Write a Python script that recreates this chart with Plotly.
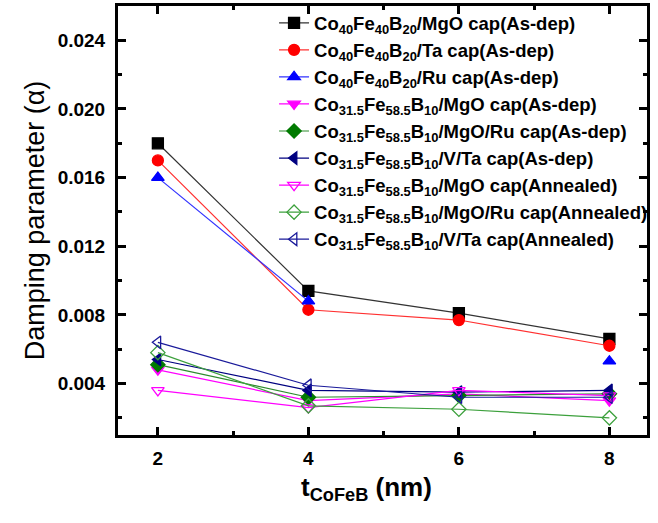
import plotly.graph_objects as go

# CoFeB thickness (nm)
t_cofeb = [2, 4, 6, 8]

# Gilbert damping parameter for each stack
co40_mgo_asdep = [0.0180, 0.0094, 0.0081, 0.0066]
co40_ta_asdep = [0.0170, 0.0083, 0.0077, 0.0062]
co40_ru_asdep = [0.0160, 0.0088, None, 0.0053]
co31_mgo_asdep = [0.0048, 0.0030, 0.0034, 0.0030]
co31_mgoru_asdep = [0.0051, 0.0032, 0.0033, 0.0034]
co31_vta_asdep = [0.0054, 0.0036, 0.0035, 0.0036]
co31_mgo_ann = [0.0036, 0.0026, 0.0036, 0.0033]
co31_mgoru_ann = [0.0058, 0.0027, 0.0025, 0.0020]
co31_vta_ann = [0.0064, 0.0039, 0.0032, 0.0032]

A = "Co<sub>40</sub>Fe<sub>40</sub>B<sub>20</sub>"
B = "Co<sub>31.5</sub>Fe<sub>58.5</sub>B<sub>10</sub>"

series = [
    (A + "/MgO cap(As-dep)", co40_mgo_asdep, "#000000", "#333333", "square"),
    (A + "/Ta cap(As-dep)", co40_ta_asdep, "#FF0000", "#FF3030", "circle"),
    (A + "/Ru cap(As-dep)", co40_ru_asdep, "#0000FF", "#3030FF", "triangle-up"),
    (B + "/MgO cap(As-dep)", co31_mgo_asdep, "#FF00FF", "#FF00FF", "triangle-down"),
    (B + "/MgO/Ru cap(As-dep)", co31_mgoru_asdep, "#007A00", "#2E8B2E", "diamond"),
    (B + "/V/Ta cap(As-dep)", co31_vta_asdep, "#000080", "#000080", "triangle-left"),
    (B + "/MgO cap(Annealed)", co31_mgo_ann, "#FF00FF", "#FF00FF", "triangle-down-open"),
    (B + "/MgO/Ru cap(Annealed)", co31_mgoru_ann, "#3CA03C", "#3CA03C", "diamond-open"),
    (B + "/V/Ta cap(Annealed)", co31_vta_ann, "#1A1A9A", "#1A1A9A", "triangle-left-open"),
]

fig = go.Figure()
for name, vals, mcol, lcol, sym in series:
    fig.add_trace(go.Scatter(
        x=t_cofeb, y=vals, name=name, mode="lines+markers",
        connectgaps=False,
        line=dict(color=lcol, width=1.2),
        marker=dict(symbol=sym, size=11, color=mcol,
                    line=dict(color=mcol, width=1.3)),
    ))

font_family = "Arial, Liberation Sans, sans-serif"

# x-axis title placed as an annotation below the tick labels
fig.add_annotation(
    text="t<sub>CoFeB</sub> (nm)", xref="paper", yref="paper",
    x=0.469, y=-0.125, xanchor="center", yanchor="middle", showarrow=False,
    font=dict(size=26, family=font_family, weight="bold", color="black"),
)

fig.update_layout(
    width=658, height=523,
    margin=dict(l=118, r=11, t=6, b=88, autoexpand=False),
    paper_bgcolor="white", plot_bgcolor="white",
    font=dict(family=font_family, color="black"),
    showlegend=True,
    legend=dict(
        x=0.295, y=1.004, xanchor="left", yanchor="top",
        bgcolor="rgba(0,0,0,0)", borderwidth=0,
        font=dict(size=18.5, family=font_family, color="black", weight="bold"),
        itemwidth=30, tracegroupgap=0,
    ),
    xaxis=dict(
        range=[1.47, 8.5], tickvals=[2, 4, 6, 8], automargin=False,
        ticks="inside", ticklen=8, tickwidth=2.5, tickcolor="black",
        showline=True, linewidth=3, linecolor="black", mirror="ticks",
        showgrid=False, zeroline=False,
        minor=dict(tickvals=[3, 5, 7], ticks="inside", ticklen=4,
                   tickwidth=2.5, tickcolor="black"),
        tickfont=dict(size=19, family=font_family, weight="bold"),
        ticklabelstandoff=4,
    ),
    yaxis=dict(
        range=[0.001, 0.026], automargin=False,
        tickvals=[0.004, 0.008, 0.012, 0.016, 0.020, 0.024],
        ticktext=["0.004", "0.008", "0.012", "0.016", "0.020", "0.024"],
        ticks="inside", ticklen=8, tickwidth=2.5, tickcolor="black",
        showline=True, linewidth=3, linecolor="black", mirror="ticks",
        showgrid=False, zeroline=False,
        minor=dict(tickvals=[0.002, 0.006, 0.010, 0.014, 0.018, 0.022, 0.026],
                   ticks="inside", ticklen=4, tickwidth=2.5, tickcolor="black"),
        tickfont=dict(size=19, family=font_family, weight="bold"),
        ticklabelstandoff=6,
        title=dict(text="Damping parameter (\u03b1)",
                   font=dict(size=27, family=font_family),
                   standoff=6),
    ),
)

fig.write_html("out.html")
